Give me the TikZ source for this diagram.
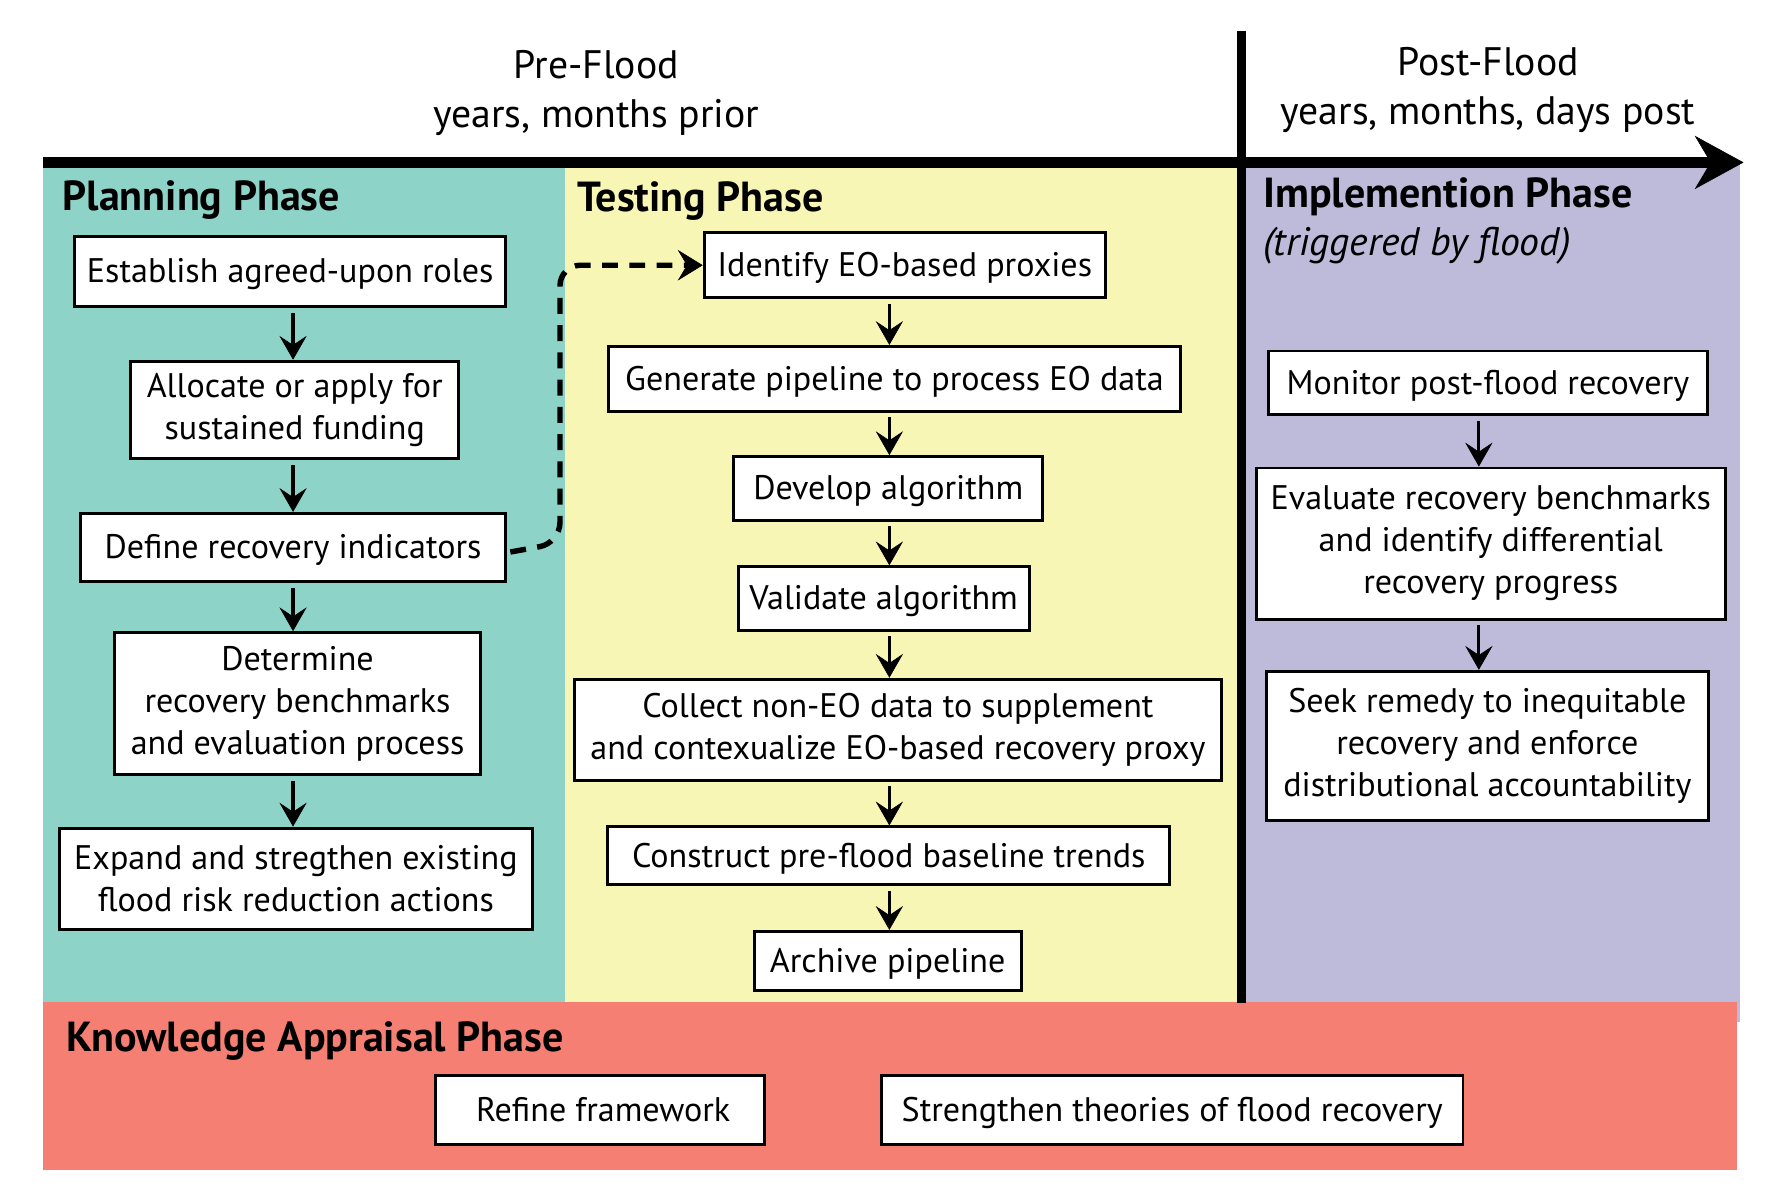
\documentclass[tikz,border=0pt]{standalone}
\usepackage{fontspec}
\setmainfont{PT Sans}
\usetikzlibrary{arrows.meta,calc}
\definecolor{tealbg}{HTML}{8DD3C7}
\definecolor{yelbg}{HTML}{F8F6B4}
\definecolor{purbg}{HTML}{BEBADA}
\definecolor{redbg}{HTML}{F47F72}
\begin{document}
\begin{tikzpicture}[x=1pt,y=-1pt,
  box/.style={draw=black, line width=2.6pt, fill=white, inner sep=0pt, align=center, font=\fontsize{30}{37}\selectfont},
  oneline/.style={text height=24pt, text depth=4pt},
  arr/.style={line width=2.8pt, shorten <=4pt, -{Stealth[length=21pt,width=24pt,inset=8pt,line width=0.5pt]}},
  dasharr/.style={line width=4.8pt, dash pattern=on 14pt off 10pt, rounded corners=18pt, -{Stealth[length=22pt,width=27pt,inset=8pt,line width=0.5pt]}},
  phase/.style={anchor=base west, inner sep=0pt, font=\fontsize{37}{40}\selectfont\bfseries},
  toplab/.style={align=center, inner sep=0pt, font=\fontsize{35}{43}\selectfont}
]
\useasboundingbox (0,0) rectangle (1568,1053);
% background regions
\fill[tealbg] (38,143) rectangle (497,883);
\fill[yelbg] (497,143) rectangle (1093,883);
\fill[purbg] (1093,143) rectangle (1532,900);
\fill[redbg] (38,882) rectangle (1529,1030);
% timeline
\coordinate (tl0) at (38,143);
\coordinate (tl1) at (1535,143);
\draw[line width=9pt, -{Stealth[length=43pt,width=47pt,inset=14pt,line width=0.5pt]}] (tl0) -- (tl1);
\coordinate (vtop) at (1093,27);
\coordinate (vbot) at (1093,883);
\draw[line width=8pt] (vtop) -- (vbot);
% top labels
\node[toplab] (pre) at (525,82) {Pre-Flood\\years, months prior};
\node[toplab] (post) at (1310,79) {Post-Flood\\years, months, days post};
% phase titles
\node[phase] (plan) at (55,185) {Planning Phase};
\node[phase] (test) at (508,186) {Testing Phase};
\node[phase] (impl) at (1112,183) {Implemention Phase};
\node[anchor=base west, inner sep=0pt, font=\fontsize{35}{40}\selectfont\itshape] (trig) at (1112,225) {(triggered by flood)};
\node[phase] (know) at (58,926) {Knowledge Appraisal Phase};
% planning boxes
\node[box, oneline, minimum width=379pt, minimum height=62pt] (p1) at (255.5,239) {Establish agreed-upon roles};
\node[box, minimum width=289pt, minimum height=86pt] (p2) at (259.5,361) {Allocate or apply for\\sustained funding};
\node[box, oneline, minimum width=374pt, minimum height=60pt] (p3) at (258,482) {Define recovery indicators};
\node[box, minimum width=322pt, minimum height=125pt] (p4) at (262,619.5) {Determine\\recovery benchmarks\\and evaluation process};
\node[box, minimum width=417pt, minimum height=89pt] (p5) at (260.5,773.5) {Expand and stregthen existing\\flood risk reduction actions};
% testing boxes
\node[box, oneline, minimum width=353pt, minimum height=57pt] (t1) at (796.5,233.5) {Identify EO-based proxies};
\node[box, oneline, minimum width=503pt, minimum height=57pt] (t2) at (787.5,333.5) {Generate pipeline to process EO data};
\node[box, oneline, minimum width=272pt, minimum height=56pt] (t3) at (782,430) {Develop algorithm};
\node[box, oneline, minimum width=256pt, minimum height=56pt] (t4) at (778,527) {Validate algorithm};
\node[box, minimum width=569pt, minimum height=89pt] (t5) at (790.5,642.5) {Collect non-EO data to supplement\\and contexualize EO-based recovery proxy};
\node[box, oneline, minimum width=495pt, minimum height=51pt] (t6) at (782.5,753.5) {Construct pre-flood baseline trends};
\node[box, oneline, minimum width=235pt, minimum height=52pt] (t7) at (781.5,846) {Archive pipeline};
% implementation boxes
\node[box, oneline, minimum width=386pt, minimum height=56pt] (i1) at (1310,337) {Monitor post-flood recovery};
\node[box, minimum width=413pt, minimum height=133pt] (i2) at (1312.5,478.5) {Evaluate recovery benchmarks\\and identify differential\\recovery progress};
\node[box, minimum width=389pt, minimum height=131pt] (i3) at (1309.5,656.5) {Seek remedy to inequitable\\recovery and enforce\\distributional accountability};
% knowledge boxes
\node[box, oneline, minimum width=290pt, minimum height=61pt] (k1) at (528,977.5) {\hspace{6pt}Refine framework};
\node[box, oneline, minimum width=512pt, minimum height=61pt] (k2) at (1032,977.5) {Strengthen theories of flood recovery};
% arrow columns
\coordinate (px) at (258,0);
\coordinate (tx) at (783,0);
\coordinate (ix) at (1302,0);
\coordinate (dx) at (493,0);
\draw[arr] (p1.south -| px) -- (p2.north -| px);
\draw[arr] (p2.south -| px) -- (p3.north -| px);
\draw[arr] (p3.south -| px) -- (p4.north -| px);
\draw[arr] (p4.south -| px) -- (p5.north -| px);
\draw[arr] (t1.south -| tx) -- (t2.north -| tx);
\draw[arr] (t2.south -| tx) -- (t3.north -| tx);
\draw[arr] (t3.south -| tx) -- (t4.north -| tx);
\draw[arr] (t4.south -| tx) -- (t5.north -| tx);
\draw[arr] (t5.south -| tx) -- (t6.north -| tx);
\draw[arr] (t6.south -| tx) -- (t7.north -| tx);
\draw[arr] (i1.south -| ix) -- (i2.north -| ix);
\draw[arr] (i2.south -| ix) -- (i3.north -| ix);
% dashed connector
\draw[dasharr] ([shift={(3,4)}]p3.east) -- ([yshift=4]p3.east -| dx) |- (t1.west);
\end{tikzpicture}
\end{document}
